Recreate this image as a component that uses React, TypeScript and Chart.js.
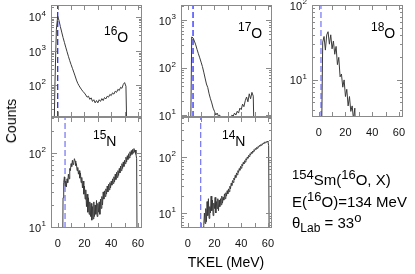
import React, { useEffect, useRef } from "react";
import { Chart, registerables } from "chart.js";

Chart.register(...registerables);

const W = 415;
const H = 274;
const X_MIN = -5;
const X_MAX = 63;
const X_TICKS = [0, 10, 20, 30, 40, 50, 60];
const X_TICK_LABELS = [0, 20, 40, 60];

// ---- data: TKEL (MeV) bins and counts ----
const o16Energy = [-3, -2, -1, 0, 1, 2, 3, 4, 5, 6, 7, 8, 9, 10, 11, 12, 13, 14, 15, 16, 17, 18, 19, 20, 21, 22, 23, 24, 25, 26, 27, 28, 29, 30, 31, 32, 33, 34, 35, 36, 37, 38, 39, 40, 41, 42, 43, 44, 45, 46, 47, 48, 49, 50, 51, 52];
const o16Counts = [1, 130, 4200, 10500, 7800, 5200, 3600, 2500, 1800, 1300, 950, 700, 520, 400, 310, 240, 185, 140, 112, 95, 82, 72, 64, 58, 51, 44, 47, 38, 42, 33, 37, 30, 35, 30, 37, 33, 40, 35, 43, 39, 47, 44, 53, 49, 59, 54, 66, 61, 75, 69, 86, 80, 104, 118, 92, 1];

const o17Energy = [2, 3, 4, 5, 6, 7, 8, 9, 10, 11, 12, 13, 14, 15, 16, 17, 18, 19, 20, 21, 22, 23, 24, 25, 26, 27, 28, 29, 30, 31, 32, 33, 34, 35, 36, 37, 38, 39, 40, 41, 42, 43, 44, 45, 46, 47, 48, 49, 50];
const o17Counts = [1, 440, 420, 360, 300, 240, 195, 160, 130, 105, 80, 60, 45, 38, 28, 22, 18, 14, 12, 10, 11, 9.5, 10, 5, 1, 9.5, 1, 1, 9.3, 1, 1, 10, 9.5, 11, 10, 12, 11, 14, 13, 17, 15, 20, 24, 19, 28, 22, 30, 25, 1];

const o18Energy = [2, 3, 4, 5, 6, 7, 8, 9, 10, 11, 12, 13, 14, 15, 16, 17, 18, 19, 20, 21, 22, 23, 24, 25, 26, 27, 28];
const o18Counts = [1, 32, 38, 25, 40, 44, 30, 40, 26, 33, 22, 28, 16, 20, 11, 12, 8, 10, 6, 7.5, 4.5, 6, 3.8, 4.5, 3, 4.2, 1];

const n15Energy = [3.5, 4, 4.5, 5, 5.5, 6, 6.5, 7, 7.5, 8, 8.5, 9, 9.5, 10, 10.5, 11, 11.5, 12, 12.5, 13, 13.5, 14, 14.5, 15, 15.5, 16, 16.5, 17, 17.5, 18, 18.5, 19, 19.5, 20, 20.5, 21, 21.5, 22, 22.5, 23, 23.5, 24, 24.5, 25, 25.5, 26, 26.5, 27, 27.5, 28, 28.5, 29, 29.5, 30, 30.5, 31, 31.5, 32, 32.5, 33, 33.5, 34, 34.5, 35, 35.5, 36, 36.5, 37, 37.5, 38, 38.5, 39, 39.5, 40, 40.5, 41, 41.5, 42, 42.5, 43, 43.5, 44, 44.5, 45, 45.5, 46, 46.5, 47, 47.5, 48, 48.5, 49, 49.5, 50, 50.5, 51, 51.5, 52, 52.5, 53, 53.5, 54, 54.5, 55, 55.5, 56, 56.5, 57, 57.5, 58, 58.5, 59, 59.5];
const n15Counts = [1, 25, 40, 48, 36, 42, 35, 45, 40, 52, 45, 62, 58, 72, 66, 80, 70, 75, 84, 78, 68, 72, 58, 64, 52, 58, 46, 54, 40, 47, 34, 42, 28, 36, 24, 32, 19, 28, 16, 25, 15, 22, 14, 21, 12.5, 19, 13, 22, 14, 20, 15, 23, 14, 21, 16, 22, 15, 24, 18, 26, 20, 30, 24, 31, 26, 33, 28, 36, 30, 38, 32, 40, 34, 42, 37, 45, 39, 48, 41, 52, 44, 55, 47, 58, 50, 62, 54, 67, 58, 72, 62, 76, 66, 80, 72, 88, 76, 92, 82, 98, 86, 104, 92, 108, 96, 112, 100, 115, 104, 110, 96, 84, 1];

const n14Energy = [11.5, 12, 12.5, 13, 13.5, 14, 14.5, 15, 15.5, 16, 16.5, 17, 17.5, 18, 18.5, 19, 19.5, 20, 20.5, 21, 21.5, 22, 22.5, 23, 23.5, 24, 24.5, 25, 25.5, 26, 26.5, 27, 27.5, 28, 28.5, 29, 29.5, 30, 30.5, 31, 31.5, 32, 32.5, 33, 33.5, 34, 34.5, 35, 35.5, 36, 36.5, 37, 37.5, 38, 38.5, 39, 39.5, 40, 40.5, 41, 41.5, 42, 42.5, 43, 43.5, 44, 44.5, 45, 45.5, 46, 46.5, 47, 47.5, 48, 48.5, 49, 49.5, 50, 50.5, 51, 51.5, 52, 52.5, 53, 53.5, 54, 54.5, 55, 55.5, 56, 56.5, 57, 57.5, 58, 58.5, 59, 59.5, 60, 60.5, 61];
const n14Counts = [1, 6, 10, 6.5, 12, 7, 16, 9, 18, 8, 13, 10, 20, 11, 17, 9, 15, 12, 19, 10, 16, 12, 18, 11, 17, 13, 18, 14, 20, 15, 19, 17, 22, 18, 23, 20, 25, 22, 27, 24, 30, 27, 34, 31, 38, 35, 42, 39, 47, 43, 52, 48, 57, 53, 62, 58, 68, 63, 74, 69, 80, 75, 86, 81, 93, 88, 100, 95, 107, 102, 114, 109, 121, 116, 128, 123, 135, 130, 141, 137, 148, 143, 154, 150, 160, 156, 166, 162, 172, 168, 178, 174, 184, 180, 188, 184, 192, 186, 160, 1];

// reference lines (MeV)
const qLines = [0, 4, 1.7, 5.5, 9.7];

const FONT = "'Liberation Sans', Arial, Helvetica, sans-serif";
const FRAME = "#8a8a8a";

type Panel = {
  mass: string;
  elem: string;
  left: number;
  top: number;
  right: number;
  bottom: number;
  yMin: number;
  yMax: number;
  energies: number[];
  counts: number[];
  q: number;
  xLabels: boolean;
  labelX: number;
  labelBase: number;
  qColor: string;
};

const panels: Panel[] = [
  { mass: "16", elem: "O", left: 51, top: 5, right: 142, bottom: 117, yMin: 11.5, yMax: 22500, energies: o16Energy, counts: o16Counts, q: qLines[0], xLabels: false, labelX: 104, labelBase: 42, qColor: "#2b2bff" },
  { mass: "17", elem: "O", left: 181, top: 5, right: 272, bottom: 117, yMin: 9.1, yMax: 2070, energies: o17Energy, counts: o17Counts, q: qLines[1], xLabels: false, labelX: 238, labelBase: 38, qColor: "#2b2bff" },
  { mass: "18", elem: "O", left: 312, top: 5, right: 403, bottom: 117, yMin: 3.2, yMax: 100, energies: o18Energy, counts: o18Counts, q: qLines[2], xLabels: true, labelX: 371, labelBase: 38, qColor: "#7c7cf6" },
  { mass: "15", elem: "N", left: 51, top: 117, right: 142, bottom: 228, yMin: 9.8, yMax: 306, energies: n15Energy, counts: n15Counts, q: qLines[3], xLabels: true, labelX: 93, labelBase: 146, qColor: "#7c7cf6" },
  { mass: "14", elem: "N", left: 181, top: 117, right: 272, bottom: 228, yMin: 5.4, yMax: 518, energies: n14Energy, counts: n14Counts, q: qLines[4], xLabels: true, labelX: 222, labelBase: 146, qColor: "#7c7cf6" },
];

const axesPlugin = {
  id: "panelAxes",
  afterDraw(chart: any) {
    const p: Panel = chart.options.plugins.panelAxes.panel;
    const { ctx, chartArea: a, scales } = chart;
    const xs = scales.x;
    const ys = scales.y;
    ctx.save();
    ctx.strokeStyle = FRAME;
    ctx.lineWidth = 1;
    ctx.strokeRect(a.left + 0.5, a.top + 0.5, a.right - a.left - 1, a.bottom - a.top - 1);
    ctx.beginPath();
    for (const v of X_TICKS) {
      const px = Math.round(xs.getPixelForValue(v)) + 0.5;
      ctx.moveTo(px, a.bottom);
      ctx.lineTo(px, a.bottom - 5);
      ctx.moveTo(px, a.top);
      ctx.lineTo(px, a.top + 5);
    }
    const d0 = Math.floor(Math.log10(p.yMin));
    const d1 = Math.ceil(Math.log10(p.yMax));
    for (let d = d0; d <= d1; d++) {
      for (let m = 1; m <= 9; m++) {
        const v = m * Math.pow(10, d);
        if (v < p.yMin * 0.999 || v > p.yMax * 1.001) continue;
        const py = Math.round(ys.getPixelForValue(v)) + 0.5;
        const len = m === 1 ? 6 : 3;
        ctx.moveTo(a.left, py);
        ctx.lineTo(a.left + len, py);
        ctx.moveTo(a.right, py);
        ctx.lineTo(a.right - len, py);
      }
    }
    ctx.stroke();

    ctx.fillStyle = "#111";
    // y labels 10^n
    for (let d = d0; d <= d1; d++) {
      const v = Math.pow(10, d);
      if (v < p.yMin * 0.999 || v > p.yMax * 1.001) continue;
      const py = ys.getPixelForValue(v);
      const right = a.left - 5;
      ctx.font = `8px ${FONT}`;
      const ew = ctx.measureText(String(d)).width;
      ctx.textAlign = "left";
      ctx.textBaseline = "alphabetic";
      ctx.fillText(String(d), right - ew, py - 1);
      ctx.font = `11px ${FONT}`;
      ctx.textAlign = "right";
      ctx.fillText("10", right - ew - 0.5, py + 4.5);
    }
    // x labels
    if (p.xLabels) {
      ctx.font = `11px ${FONT}`;
      ctx.textAlign = "center";
      ctx.textBaseline = "alphabetic";
      for (const v of X_TICK_LABELS) {
        ctx.fillText(String(v), xs.getPixelForValue(v), a.bottom + 19);
      }
    }
    // panel label
    ctx.fillStyle = "#000";
    ctx.textAlign = "left";
    ctx.font = `12px ${FONT}`;
    ctx.fillText(p.mass, p.labelX, p.labelBase - 7);
    const mw = ctx.measureText(p.mass).width;
    ctx.font = `14px ${FONT}`;
    ctx.fillText(p.elem, p.labelX + mw, p.labelBase);
    ctx.restore();
  },
};

function PanelChart({ p }: { p: Panel }) {
  const ref = useRef<HTMLCanvasElement | null>(null);
  useEffect(() => {
    if (!ref.current) return;
    const chart = new Chart(ref.current, {
      type: "line",
      data: {
        datasets: [
          {
            data: p.energies.map((e, i) => ({ x: e, y: p.counts[i] })),
            borderColor: "#3a3a3a",
            borderWidth: 1,
            pointRadius: 0,
            tension: 0,
            fill: false,
          },
          {
            data: [
              { x: p.q, y: p.yMin },
              { x: p.q, y: p.yMax },
            ],
            borderColor: p.qColor,
            borderWidth: 1.3,
            borderDash: [6, 3],
            pointRadius: 0,
            fill: false,
          },
        ],
      },
      options: {
        responsive: false,
        animation: false,
        devicePixelRatio: 1,
        events: [],
        layout: { padding: { left: p.left, top: p.top, right: W - p.right, bottom: H - p.bottom } },
        plugins: {
          legend: { display: false },
          tooltip: { enabled: false },
          panelAxes: { panel: p },
        } as any,
        scales: {
          x: { type: "linear", min: X_MIN, max: X_MAX, display: false },
          y: { type: "logarithmic", min: p.yMin, max: p.yMax, display: false },
        },
      },
      plugins: [axesPlugin],
    } as any);
    return () => chart.destroy();
  }, [p]);
  return (
    <canvas
      ref={ref}
      width={W}
      height={H}
      style={{ position: "absolute", left: 0, top: 0, width: W, height: H }}
    />
  );
}

const txt: React.CSSProperties = { position: "absolute", fontFamily: FONT, color: "#000", whiteSpace: "nowrap", lineHeight: 1 };
const sup = (s: string, size: number, raise: number) => (
  <span style={{ fontSize: size, position: "relative", top: -raise }}>{s}</span>
);

export default function App() {
  return (
    <div style={{ position: "absolute", left: 0, top: 0, width: W, height: H, background: "#fff", overflow: "hidden" }}>
      {panels.map((p) => (
        <PanelChart key={p.mass + p.elem} p={p} />
      ))}
      <div
        style={{
          ...txt,
          fontSize: 14,
          left: 11,
          top: 121,
          transform: "translate(-50%, -50%) rotate(-90deg)",
        }}
      >
        Counts
      </div>
      <div style={{ ...txt, fontSize: 14, left: 226, top: 262, transform: "translate(-50%, -50%)" }}>TKEL (MeV)</div>
      <div style={{ ...txt, fontSize: 15, left: 292, top: 172 }}>
        {sup("154", 13, 6)}Sm({sup("16", 13, 6)}O, X)
      </div>
      <div style={{ ...txt, fontSize: 15, left: 292, top: 194 }}>
        E({sup("16", 13, 6)}O)=134 MeV
      </div>
      <div style={{ ...txt, fontSize: 15, left: 292, top: 215 }}>
        θ<span style={{ fontSize: 12, position: "relative", top: 4 }}>Lab</span> = 33{sup("o", 13, 6)}
      </div>
    </div>
  );
}
